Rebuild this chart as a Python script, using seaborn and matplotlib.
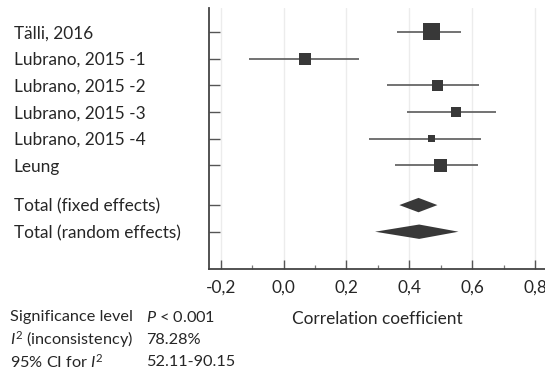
"""Forest plot: correlation coefficients with 95% CI, fixed and random effects."""

import numpy as np
import pandas as pd
import matplotlib
matplotlib.use("Agg")
import matplotlib.pyplot as plt
import seaborn as sns

studies = ["Tälli, 2016", "Lubrano, 2015 -1", "Lubrano, 2015 -2",
           "Lubrano, 2015 -3", "Lubrano, 2015 -4", "Leung"]
r_est = [0.469, 0.068, 0.488, 0.548, 0.469, 0.498]
ci_lo = [0.360, -0.109, 0.328, 0.392, 0.271, 0.355]
ci_hi = [0.564, 0.241, 0.621, 0.674, 0.628, 0.619]
weights = [33.1, 16.5, 13.9, 11.5, 5.6, 19.4]  # relative weight (%)

pooled_labels = ["Total (fixed effects)", "Total (random effects)"]
pooled_est = [0.429, 0.431]
pooled_lo = [0.368, 0.291]
pooled_hi = [0.489, 0.556]

stats_names = ["Significance level", "$\\mathit{I}^2$ (inconsistency)", "95% CI for $\\mathit{I}^2$"]
stats_values = ["$\\mathit{P}$ < 0.001", "78.28%", "52.11-90.15"]

xticks = [-0.2, 0.0, 0.2, 0.4, 0.6, 0.8]

sns.set_theme(style="white")
plt.rcParams["font.family"] = ["Lato", "DejaVu Sans"]
plt.rcParams["mathtext.fontset"] = "custom"
plt.rcParams["mathtext.rm"] = "Lato"
plt.rcParams["mathtext.it"] = "Lato:italic"

W, H = 545, 373
fig = plt.figure(figsize=(W / 100, H / 100), dpi=100)
ax = fig.add_axes([209 / W, 1 - 269 / H, 1 - 209 / W, (269 - 8) / H])

ink = "#383838"
txt = "#262626"
fs = 12.4

study_y = np.arange(len(studies), dtype=float)
pooled_y = np.array([6.5, 7.5])

df = pd.DataFrame({"study": studies, "r": r_est, "lo": ci_lo, "hi": ci_hi,
                   "w": weights, "y": study_y})

# CI whiskers
ax.hlines(df["y"], df["lo"], df["hi"], color="#5a5a5a", lw=1.2, zorder=2)

# weighted squares (side proportional to sqrt of weight)
side_pt = 2.95 * np.sqrt(df["w"].to_numpy()) * 0.72
sns.scatterplot(data=df, x="r", y="y", marker="s", s=side_pt ** 2,
                color=ink, edgecolor="none", linewidth=0, ax=ax, zorder=3,
                legend=False)

# pooled diamonds
half_h = 0.27
for yy, est, lo, hi in zip(pooled_y, pooled_est, pooled_lo, pooled_hi):
    ax.fill([lo, est, hi, est], [yy, yy - half_h, yy, yy + half_h],
            color=ink, lw=0, zorder=3)

ax.set_xlim(-0.237, 0.831)
ax.set_ylim(8.9, -0.9)

ax.set_xticks(xticks)
ax.set_xticklabels([f"{t:.1f}".replace(".", ",") for t in xticks],
                   fontsize=fs, color=txt)
ax.set_xticks(np.arange(-0.1, 0.81, 0.2), minor=True)
ax.tick_params(axis="x", which="major", direction="in", length=6.5, width=1.0,
               color="#555555", pad=8, bottom=True)
ax.tick_params(axis="x", which="minor", direction="in", length=3, width=0.9,
               color="#777777", bottom=True)

ax.set_yticks(np.concatenate([study_y, pooled_y]))
ax.set_yticklabels(studies + pooled_labels, fontsize=fs, color=txt)
ax.tick_params(axis="y", direction="in", length=8, width=1.0, color="#555555",
               pad=140.5, left=True)
for lab in ax.get_yticklabels():
    lab.set_horizontalalignment("left")

ax.grid(axis="x", color="#ececec", lw=1.0)
ax.grid(axis="y", visible=False)
ax.set_axisbelow(True)

for side in ["top", "right"]:
    ax.spines[side].set_visible(False)
for side in ["left", "bottom"]:
    ax.spines[side].set_color("#444444")
    ax.spines[side].set_linewidth(1.3)

ax.set_xlabel("Correlation coefficient", fontsize=fs, labelpad=11, color=txt)
ax.set_ylabel("")

# statistics block under the labels
fs_stats = 11.7
rows_y = [317, 340, 362]
for yy, name, val in zip(rows_y, stats_names, stats_values):
    fig.text(10 / W, 1 - yy / H, name, fontsize=fs_stats, va="center", color=txt)
    fig.text(146 / W, 1 - yy / H, val, fontsize=fs_stats, va="center", color=txt)

fig.savefig("out.png", dpi=100)
